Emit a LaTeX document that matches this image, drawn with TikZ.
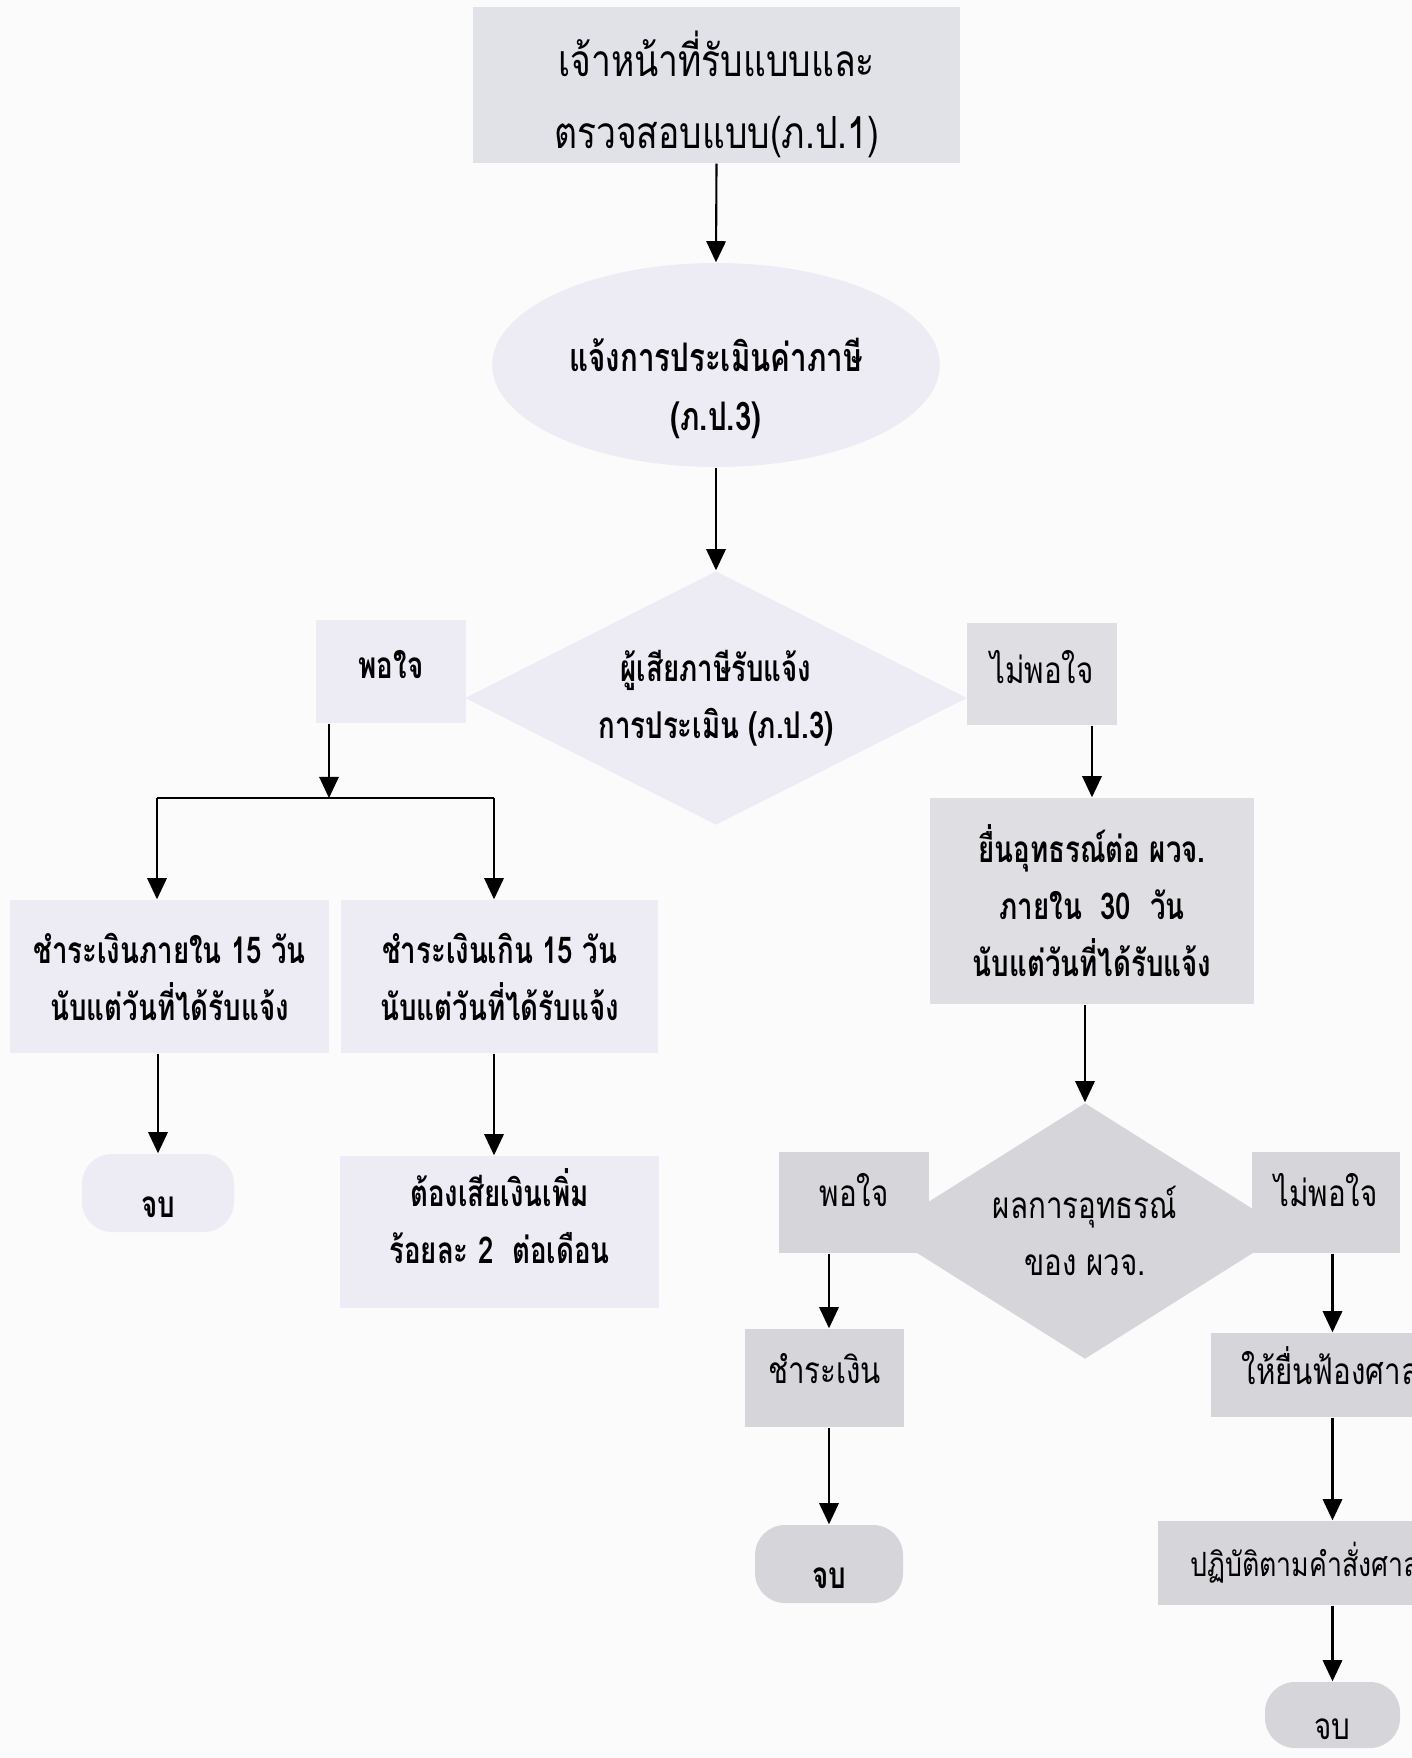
\documentclass[tikz,border=0pt]{standalone}
\usepackage{fontspec}
\newfontfamily\thaifont[Script=Thai,FakeStretch=0.8]{Loma}
\newfontfamily\thaibold[Script=Thai,FakeStretch=0.75]{Loma}
\usetikzlibrary{shapes.geometric,arrows.meta}
\definecolor{paper}{RGB}{251,251,252}
\definecolor{topgrey}{RGB}{225,225,232}
\definecolor{lilac}{RGB}{237,235,244}
\definecolor{greyA}{RGB}{222,222,227}
\definecolor{greyB}{RGB}{213,213,218}
% move the printed text up or down inside its shape
\newcommand{\lift}[2]{\raisebox{#1}[\height][\depth]{#2}}
\begin{document}
\begin{tikzpicture}[
    arr/.style={-{Triangle[width=5.5pt,length=6pt]}, line width=0.6pt},
    box/.style={rectangle, fill=#1, align=center, inner sep=0pt},
    endbox/.style={rectangle, rounded corners=0.3cm, fill=#1, align=center, inner sep=0pt},
    decision/.style={diamond, fill=#1, align=center, inner sep=0pt},
    txt/.style={font=\thaifont\fontsize{10.5}{16.2}\selectfont},
    btxt/.style={font=\thaibold\bfseries\fontsize{10.5}{16.2}\selectfont}
  ]
  \clip (0,0) rectangle (14.12,-17.58);
  \fill[paper] (0,0) rectangle (14.12,-17.58);

  % main line
  \node[box=topgrey, minimum width=4.87cm, minimum height=1.56cm,
        font=\thaifont\fontsize{12.6}{20.5}\selectfont] (intake) at (7.165,-0.85)
        {\lift{-0.13cm}{\begin{tabular}{@{}c@{}}เจ้าหน้าที่รับแบบและ\\ตรวจสอบแบบ(ภ.ป.1)\end{tabular}}};
  \node[ellipse, fill=lilac, minimum width=4.47cm, minimum height=2.04cm,
        font=\thaibold\bfseries\fontsize{11.2}{16.8}\selectfont] (notice) at (7.16,-3.65)
        {\lift{-0.24cm}{\begin{tabular}{@{}c@{}}แจ้งการประเมินค่าภาษี\\(ภ.ป.3)\end{tabular}}};
  \node[decision=lilac, minimum width=5.02cm, minimum height=2.54cm, aspect=2, btxt]
        (check) at (7.16,-6.98) {ผู้เสียภาษีรับแจ้ง\\การประเมิน (ภ.ป.3)};
  \node[box=lilac, minimum width=1.5cm, minimum height=1.03cm, btxt] (ok1) at (3.91,-6.715) {\lift{0.07cm}{พอใจ}};
  \node[box=greyA, minimum width=1.5cm, minimum height=1.02cm, txt] (notok1) at (10.42,-6.74) {\lift{0.07cm}{ไม่พอใจ}};

  % left branch
  \coordinate (splitL) at (1.57,-7.98);
  \coordinate (okdrop) at (3.29,-7.98);
  \coordinate (splitR) at (4.94,-7.98);
  \node[box=lilac, minimum width=3.19cm, minimum height=1.53cm, btxt] (pay15) at (1.695,-9.765)
        {ชำระเงินภายใน 15 วัน\\นับแต่วันที่ได้รับแจ้ง};
  \node[box=lilac, minimum width=3.17cm, minimum height=1.53cm, btxt] (late) at (4.995,-9.765)
        {ชำระเงินเกิน 15 วัน\\นับแต่วันที่ได้รับแจ้ง};
  \node[endbox=lilac, minimum width=1.52cm, minimum height=0.78cm, btxt] (end1) at (1.58,-11.93) {\lift{-0.14cm}{จบ}};
  \node[box=lilac, minimum width=3.19cm, minimum height=1.52cm, btxt] (fine) at (4.995,-12.32)
        {\lift{0.08cm}{\begin{tabular}{@{}c@{}}ต้องเสียเงินเพิ่ม\\ร้อยละ 2~~ต่อเดือน\end{tabular}}};

  % right branch
  \node[box=greyA, minimum width=3.24cm, minimum height=2.06cm, btxt] (appeal) at (10.92,-9.01)
        {ยื่นอุทธรณ์ต่อ ผวจ.\\ภายใน~~30~~วัน\\นับแต่วันที่ได้รับแจ้ง};
  \node[decision=greyB, minimum width=4.06cm, minimum height=2.56cm, aspect=1.6, txt]
        (result) at (10.85,-12.31) {ผลการอุทธรณ์\\ของ ผวจ.};
  \node[box=greyB, minimum width=1.5cm, minimum height=1.01cm, txt] (ok2) at (8.54,-12.025) {\lift{0.12cm}{พอใจ}};
  \node[box=greyB, minimum width=1.48cm, minimum height=1.01cm, txt] (notok2) at (13.26,-12.025) {\lift{0.12cm}{ไม่พอใจ}};
  \node[box=greyB, minimum width=1.59cm, minimum height=0.98cm, txt] (pay) at (8.245,-13.78) {\lift{0.09cm}{ชำระเงิน}};
  \node[endbox=greyB, minimum width=1.48cm, minimum height=0.78cm, btxt] (end2) at (8.29,-15.64) {\lift{-0.14cm}{จบ}};
  \node[box=greyB, minimum width=2.39cm, minimum height=0.84cm, txt] (sue) at (13.305,-13.75) {\lift{0.09cm}{ให้ยื่นฟ้องศาล}};
  \node[box=greyB, minimum width=2.94cm, minimum height=0.84cm,
        font=\thaifont\fontsize{9.5}{16.2}\selectfont] (obey) at (13.05,-15.63) {ปฏิบัติตามคำสั่งศาล};
  \node[endbox=greyB, minimum width=1.35cm, minimum height=0.66cm, txt] (end3) at (13.325,-17.15) {\lift{-0.14cm}{จบ}};

  % connectors
  \draw[arr] (intake.south) -- (notice.north);
  \draw[arr] (notice.south) -- (check.north);
  \draw[arr] (ok1.south -| okdrop) -- (okdrop);
  \draw[line width=0.6pt] (splitL) -- (splitR);
  \draw[arr] (splitL) -- (pay15.north -| splitL);
  \draw[arr] (splitR) -- (late.north -| splitR);
  \draw[arr] (pay15.south -| end1) -- (end1.north);
  \draw[arr] (late.south -| splitR) -- (fine.north -| splitR);
  \draw[arr] (appeal.north |- notok1.south) -- (appeal.north);
  \draw[arr] (appeal.south -| result) -- (result.north);
  \draw[arr] (ok2.south -| end2) -- (pay.north -| end2);
  \draw[arr] (pay.south -| end2) -- (end2.north);
  \draw[arr] (notok2.south -| end3) -- (sue.north -| end3);
  \draw[arr] (sue.south -| end3) -- (obey.north -| end3);
  \draw[arr] (obey.south -| end3) -- (end3.north);
\end{tikzpicture}
\end{document}
